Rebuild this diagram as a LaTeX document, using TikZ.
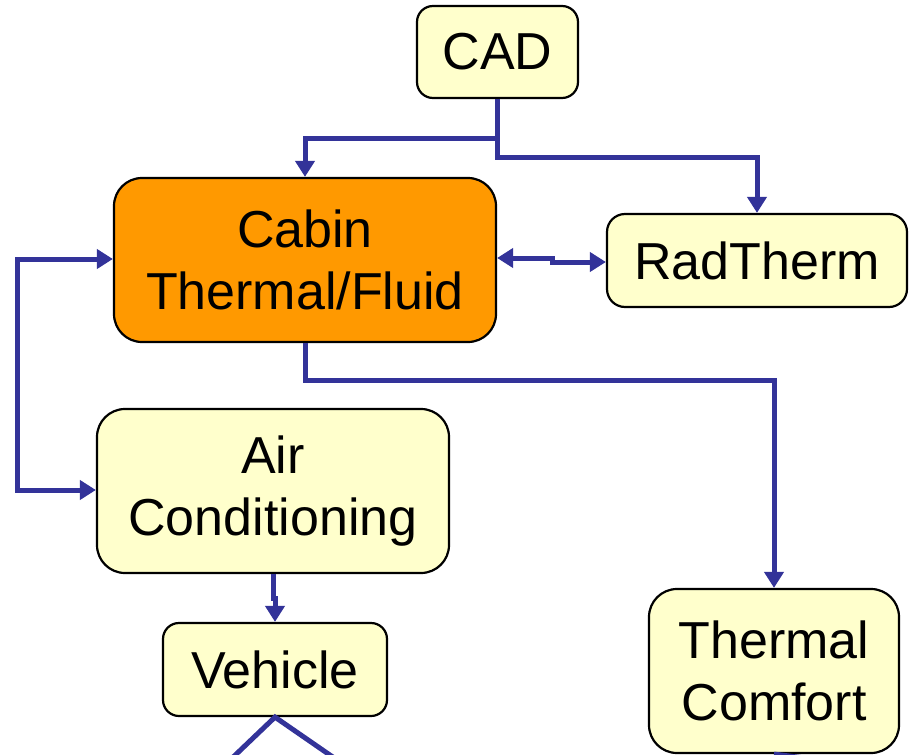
\documentclass[tikz,border=0pt]{standalone}
\usepackage{fontspec}
\setmainfont{Liberation Sans}
\usetikzlibrary{arrows.meta}
\definecolor{flowblue}{HTML}{333399}
\definecolor{paleyellow}{HTML}{FFFFCC}
\definecolor{cabinorange}{HTML}{FF9900}
\begin{document}
\begin{tikzpicture}[x=1pt,y=-1pt,
  box/.style={draw=black,line width=2.2pt,fill=paleyellow,inner sep=0pt,align=center,
    font=\fontsize{52}{62}\selectfont},
  tip/.tip={Triangle[length=16pt,width=19pt]},
  flow/.style={draw=flowblue,line width=5pt},
  conn/.style={flow,-tip},
  conn2/.style={flow,tip-tip}]
\useasboundingbox (0,0) rectangle (911,755);
\clip (0,0) rectangle (911,755);
% nodes
\node[box,rounded corners=16pt,minimum width=161pt,minimum height=92pt] (CAD) at (497.5,52) {CAD};
\node[box,fill=cabinorange,rounded corners=28pt,minimum width=382pt,minimum height=164pt] (Cabin) at (305,260) {Cabin\\Thermal/Fluid};
\node[box,rounded corners=18pt,minimum width=300pt,minimum height=93pt] (RadTherm) at (757,260.5) {RadTherm};
\node[box,rounded corners=28pt,minimum width=352pt,minimum height=164pt] (AC) at (273,491) {Air\\Conditioning};
\node[box,rounded corners=16pt,minimum width=224pt,minimum height=93pt] (Vehicle) at (275,669.5) {Vehicle};
\node[box,rounded corners=28pt,minimum width=250pt,minimum height=164pt] (TC) at (774,671) {Thermal\\Comfort};
% coordinates
\coordinate (cadsplit) at (497.5,138);
\coordinate (cadlow) at (497.5,157);
\coordinate (stepL) at (552,258);
\coordinate (stepR) at (552,262);
\coordinate (loopT) at (17,259);
\coordinate (loopB) at (17,490);
\coordinate (cabinlow) at (305,380);
\coordinate (acstepA) at (273,598);
\coordinate (acstepB) at (275,598);
\coordinate (vl) at (228,762);
\coordinate (vr) at (340,762);
\coordinate (tcout) at (900,770);
% connectors
\draw[conn] (CAD.south) -- (cadlow) -| (RadTherm.north);
\draw[conn] (cadsplit) -| (Cabin.north);
\draw[conn2] (Cabin.east |- stepL) -- (stepL) -- (stepR) -- (RadTherm.west |- stepR);
\draw[conn2] (Cabin.west |- loopT) -- (loopT) -- (loopB) -- (AC.west |- loopB);
\draw[conn] (Cabin.south) -- (cabinlow) -| (TC.north);
\draw[conn] (AC.south) -- (acstepA) -- (acstepB) -- (Vehicle.north);
\draw[flow] (vl) -- (Vehicle.south) -- (vr);
\draw[flow] (TC.south) -- (tcout);
\end{tikzpicture}
\end{document}
